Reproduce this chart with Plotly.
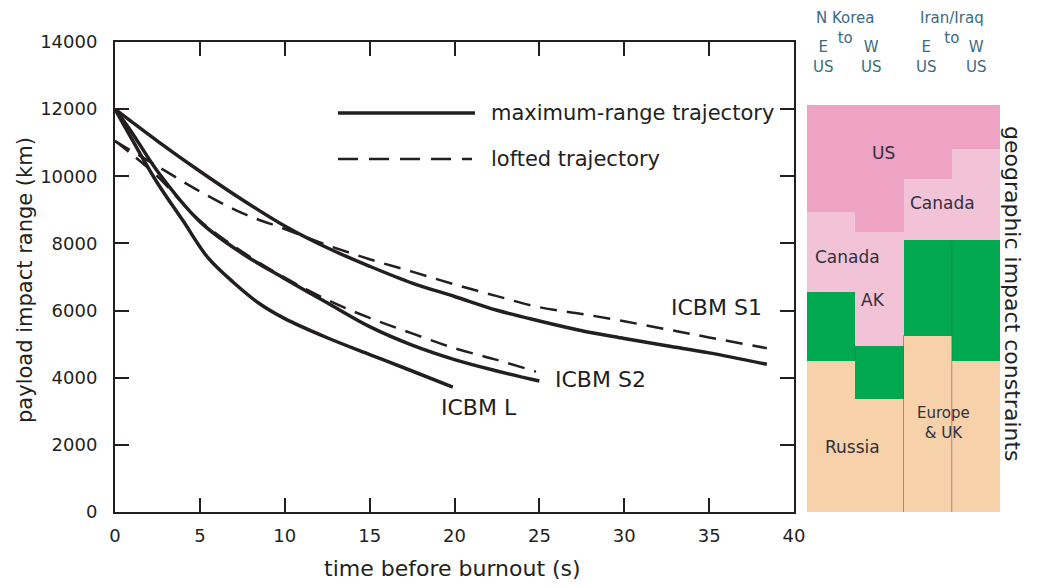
import plotly.graph_objects as go

# ---------------- data ----------------
s1_t = [0, 2.5, 5, 7.5, 10, 12.5, 15, 17.5, 20, 22.5, 25, 27.5, 30, 32.5, 35, 38.4]
s1_max = [12000, 11050, 10150, 9300, 8520, 7870, 7320, 6820, 6420, 6010, 5690, 5400, 5170, 4950, 4740, 4400]
s1_loft_t = [0, 2.5, 5, 7.5, 10, 12.5, 15, 17.5, 20, 22.5, 25, 27.5, 30, 32.5, 35, 38.4]
s1_loft = [11050, 10300, 9550, 8900, 8430, 7950, 7530, 7160, 6780, 6430, 6100, 5900, 5680, 5440, 5200, 4880]

s2_t = [0, 1, 2.5, 5, 7.5, 10, 12.5, 15, 17.5, 20, 22.5, 25]
s2_max = [12000, 11300, 10150, 8650, 7700, 6950, 6230, 5520, 4970, 4540, 4200, 3900]
s2_loft_t = [0, 1, 2.5, 5, 7.5, 10, 12.5, 15, 17.5, 20, 22.5, 24.8]
s2_loft = [11050, 10650, 10000, 8680, 7750, 6980, 6320, 5780, 5320, 4880, 4530, 4180]

l_t = [0, 1, 2.5, 4, 5.5, 7, 8.5, 10, 12.5, 15, 17.5, 19.9]
l_max = [12000, 11100, 9800, 8680, 7560, 6830, 6210, 5760, 5190, 4690, 4200, 3720]

# geographic constraint panel (km boundaries per column)
cols = ["NK-E US", "NK-W US", "II-E US", "II-W US"]
col_x = [0, 1, 2, 3]
panel_bottom = -90
panel_top = 12100
beige_top = [4450, 3300, 5200, 4450]     # Russia / Europe & UK
green_top = [6500, 4900, 8050, 8050]
lpink_top = [8900, 8300, 9900, 10800]    # Canada / AK
x_ticks = [0, 5, 10, 15, 20, 25, 30, 35, 40]
y_ticks = [0, 2000, 4000, 6000, 8000, 10000, 12000, 14000]

INK = "#231f20"
FONT = "DejaVu Sans"

# page pixel geometry of the plot area (page has an 8px body margin)
OFF = 8
L, R, T, B = 115, 1000, 42, 512
def px(x):
    return (x - L) / (R - L)
def py(y):
    return (B - y) / (B - T)

fig = go.Figure()

def curve(t, v, dashed):
    fig.add_trace(go.Scatter(
        x=t, y=v, mode="lines", xaxis="x", yaxis="y",
        line=dict(color=INK, width=2.5 if dashed else 3.5,
                  dash="17px,10px" if dashed else "solid",
                  shape="spline", smoothing=1.0),
        showlegend=False, hoverinfo="skip"))

curve(s1_loft_t, s1_loft, True)
curve(s2_loft_t, s2_loft, True)
curve(s1_t, s1_max, False)
curve(s2_t, s2_max, False)
curve(l_t, l_max, False)

# panel blocks
def block(base, top, color):
    fig.add_trace(go.Bar(
        x=col_x, y=[t - b for t, b in zip(top, base)], base=base,
        width=1, marker=dict(color=color, line=dict(width=0)),
        xaxis="x2", yaxis="y2", showlegend=False, hoverinfo="skip"))

block([panel_bottom] * 4, beige_top, "#f6d1aa")
block(beige_top, green_top, "#00a94f")
block(green_top, lpink_top, "#f2c3d6")
block(lpink_top, [panel_top] * 4, "#eea2c4")

shapes = []
sep = "rgba(90,90,90,0.55)"
shapes.append(dict(type="line", xref="x2", yref="y2", x0=col_x[1] + 0.5, x1=col_x[1] + 0.5,
                   y0=panel_bottom, y1=beige_top[2], line=dict(color=sep, width=1)))
shapes.append(dict(type="line", xref="x2", yref="y2", x0=col_x[2] + 0.5, x1=col_x[2] + 0.5,
                   y0=panel_bottom, y1=green_top[2], line=dict(color=sep, width=1)))
shapes.append(dict(type="line", xref="x2", yref="y2", x0=col_x[0] + 0.5, x1=col_x[0] + 0.5,
                   y0=beige_top[0], y1=green_top[1], line=dict(color=sep, width=1)))

# legend
shapes.append(dict(type="line", xref="paper", yref="paper", x0=px(338), x1=px(475),
                   y0=py(113), y1=py(113), line=dict(color=INK, width=3.5)))
shapes.append(dict(type="line", xref="paper", yref="paper", x0=px(338), x1=px(472),
                   y0=py(159), y1=py(159), line=dict(color=INK, width=2.5, dash="20px,11px")))

ann = []
def text(s, x, y, size, color=INK, xanchor="center", angle=0):
    ann.append(dict(text=s, x=px(x), y=py(y), xref="paper", yref="paper",
                    xanchor=xanchor, yanchor="middle", showarrow=False, textangle=angle,
                    font=dict(family=FONT, size=size, color=color)))

text("maximum-range trajectory", 489, 113, 21, xanchor="left")
text("lofted trajectory", 489, 159, 21, xanchor="left")
text("ICBM S1", 716, 307, 22)
text("ICBM S2", 600, 379, 22)
text("ICBM L", 479, 407, 22)
text("payload impact range (km)", 25, 280, 21, angle=-90)
text("time before burnout (s)", 452, 568, 22)
text("geographic impact constraints", 1013, 294, 22, angle=90)

HDR = "#3b6b82"
text("N Korea<br>to", 845, 28, 15, HDR)
text("E<br>US", 823, 57, 15, HDR)
text("W<br>US", 871, 57, 15, HDR)
text("Iran/Iraq<br>to", 952, 28, 15, HDR)
text("E<br>US", 926, 57, 15, HDR)
text("W<br>US", 976, 57, 15, HDR)

PTXT = "#30303f"
text("US", 883, 153, 17, PTXT)
text("Canada", 942, 203, 17, PTXT)
text("Canada", 847, 257, 17, PTXT)
text("AK", 873, 300, 17, PTXT)
text("Europe<br>&amp; UK", 943, 423, 15, PTXT)
text("Russia", 852, 447, 17, PTXT)

axis_common = dict(showline=True, linewidth=2, linecolor=INK, mirror="ticks",
                   ticks="inside", ticklen=14, tickwidth=2, tickcolor=INK,
                   showgrid=False, zeroline=False,
                   tickfont=dict(family=FONT, size=18, color=INK))

fig.update_layout(
    width=1053, height=588, autosize=False,
    margin=dict(l=L - OFF, r=1053 - (R - OFF), t=T - OFF, b=588 - (B - OFF), pad=0),
    paper_bgcolor="white", plot_bgcolor="white",
    barmode="overlay", bargap=0,
    xaxis=dict(domain=[0, px(794)], range=[0, 40], tickvals=x_ticks, anchor="y",
               ticklabelstandoff=6, **axis_common),
    yaxis=dict(domain=[0, 1], range=[0, 14000], tickvals=y_ticks, tickformat="d", anchor="x",
               ticklabelstandoff=12, **axis_common),
    xaxis2=dict(domain=[px(807), 1], range=[-0.5, 3.5], visible=False, anchor="y2"),
    yaxis2=dict(domain=[0, 1], range=[panel_bottom, 14000], visible=False, anchor="x2"),
    shapes=shapes, annotations=ann,
)

fig.write_html("out.html")
